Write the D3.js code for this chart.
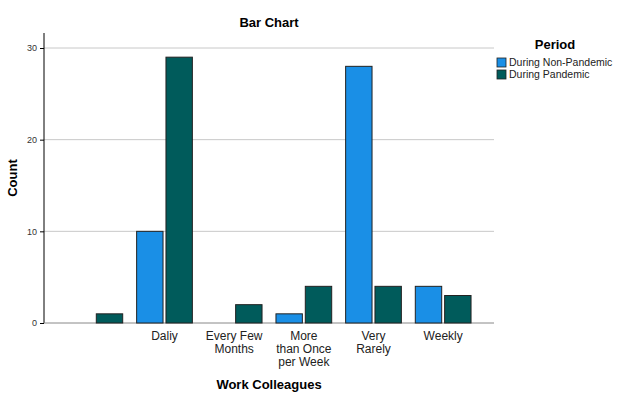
<!DOCTYPE html>
<html><head><meta charset="utf-8">
<script src="https://cdn.jsdelivr.net/npm/d3@7"></script>
<style>body{margin:0;background:#fff;font-family:"Liberation Sans",Arial,sans-serif}</style>
</head><body><svg id="c" width="621" height="403"></svg>
<script>
const categories = ["", "Daliy", "Every Few Months", "More than Once per Week", "Very Rarely", "Weekly"];
const catLines = [[""], ["Daliy"], ["Every Few", "Months"], ["More", "than Once", "per Week"], ["Very", "Rarely"], ["Weekly"]];
const series = ["During Non-Pandemic", "During Pandemic"];
const nonPandemic = [0, 10, 0, 1, 28, 4];
const pandemic = [1, 29, 2, 4, 4, 3];
const yTicks = [0, 10, 20, 30];
const colors = ["#1a8fe6", "#005b5b"];

const svg = d3.select("#c");
const x = d3.scaleBand().domain(categories).range([60, 478]).paddingInner(0.2).paddingOuter(0.1);
const x1 = d3.scaleBand().domain(series).range([0, x.bandwidth()]).paddingInner(0.1);
const y = d3.scaleLinear().domain([0, 30]).range([323, 48]);

svg.append("text").attr("x", 269).attr("y", 27).attr("text-anchor", "middle")
  .attr("font-weight", "bold").attr("font-size", 13).text("Bar Chart");

const g = svg.append("g");
yTicks.forEach(t => {
  if (t > 0) g.append("line").attr("x1", 44).attr("x2", 494).attr("y1", y(t)).attr("y2", y(t)).attr("stroke", "#c8c8c8");
});
const ya = svg.append("g").attr("transform", "translate(44,0)").call(d3.axisLeft(y).tickValues(yTicks).tickSize(4));
ya.select(".domain").attr("d", "M0,33V323");
ya.selectAll("text").attr("font-size", 9).attr("fill", "#333");
svg.append("line").attr("x1", 44).attr("x2", 494).attr("y1", 323).attr("y2", 323).attr("stroke", "#888");

const data = [nonPandemic, pandemic];
categories.forEach((c, i) => {
  series.forEach((s, j) => {
    const v = data[j][i];
    if (v > 0) svg.append("rect").attr("x", x(c) + x1(s)).attr("width", x1.bandwidth())
      .attr("y", y(v)).attr("height", y(0) - y(v)).attr("fill", colors[j]).attr("stroke", "#222").attr("stroke-width", 1);
  });
  catLines[i].forEach((l, k) => {
    svg.append("text").attr("x", x(c) + x.bandwidth() / 2).attr("y", 340 + k * 13)
      .attr("text-anchor", "middle").attr("font-size", 12).attr("fill", "#222").text(l);
  });
});

svg.append("text").attr("x", 269).attr("y", 389).attr("text-anchor", "middle")
  .attr("font-weight", "bold").attr("font-size", 13).text("Work Colleagues");
svg.append("text").attr("transform", "translate(17,178) rotate(-90)").attr("text-anchor", "middle")
  .attr("font-weight", "bold").attr("font-size", 13).text("Count");

svg.append("text").attr("x", 555).attr("y", 49).attr("text-anchor", "middle")
  .attr("font-weight", "bold").attr("font-size", 13).text("Period");
series.forEach((s, j) => {
  svg.append("rect").attr("x", 497).attr("y", 58 + j * 12).attr("width", 9).attr("height", 9)
    .attr("fill", colors[j]).attr("stroke", "#222").attr("stroke-width", 0.8);
  svg.append("text").attr("x", 509).attr("y", 66 + j * 12).attr("font-size", 10.5).attr("fill", "#222").text(s);
});
</script></body></html>
